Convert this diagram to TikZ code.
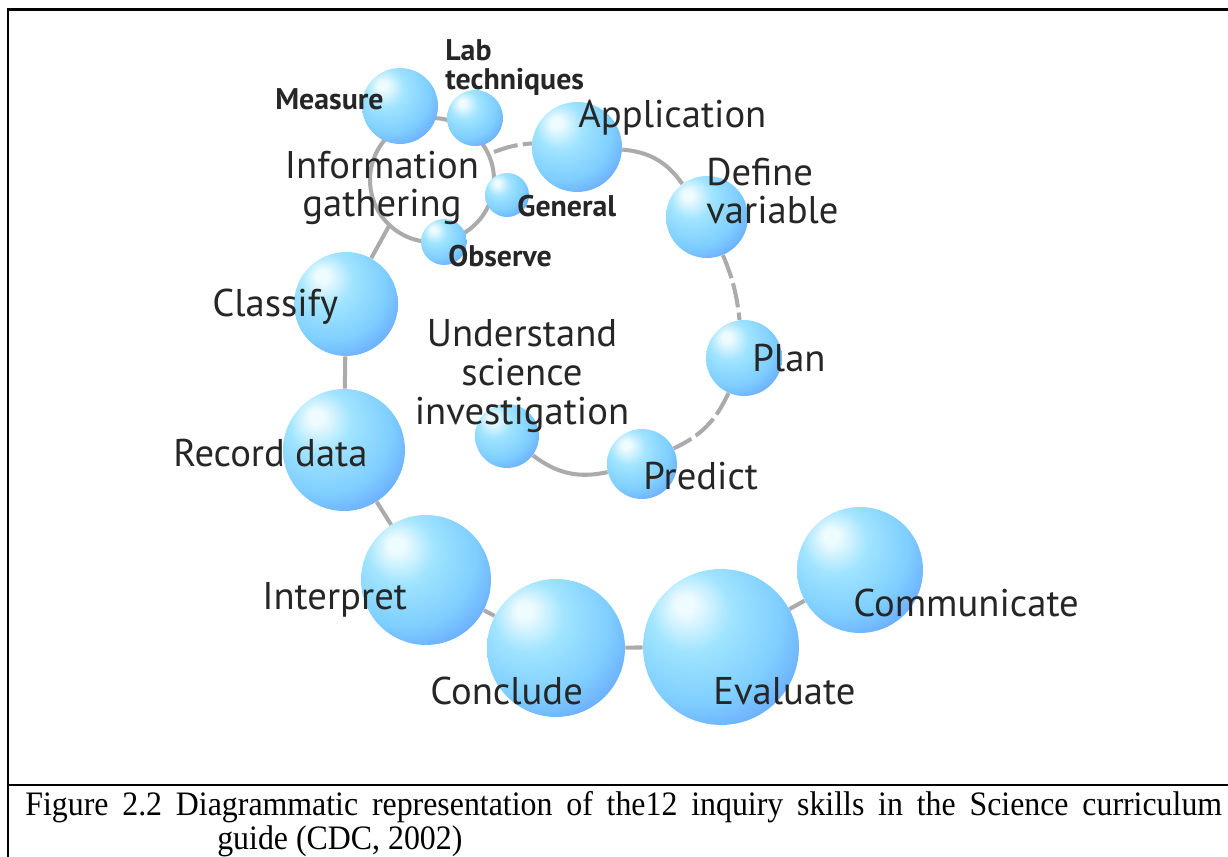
\documentclass[tikz,border=0pt]{standalone}
\usepackage{fontspec}
\newfontfamily\skillfont{PT Sans}
\newfontfamily\capfont[FakeStretch=0.93]{Liberation Serif}
\usetikzlibrary{backgrounds}

% sphere colours
\definecolor{bubA}{RGB}{238,251,255}
\definecolor{bubB}{RGB}{160,228,255}
\definecolor{bubC}{RGB}{126,206,255}
\definecolor{bubD}{RGB}{100,160,255}
\definecolor{bubE}{RGB}{80,90,250}
\pgfdeclareradialshading{bubble}{\pgfpoint{-12bp}{14bp}}{%
  color(0bp)=(bubA); color(3bp)=(bubA); color(13bp)=(bubB);
  color(27bp)=(bubC); color(39bp)=(bubD); color(51bp)=(bubE);
  color(75bp)=(bubE)}

\tikzset{
  bub/.style={circle, shade, shading=bubble, inner sep=0pt,
    minimum size=#1*0.04cm},
  skill/.style={font=\skillfont\fontsize{22}{22}\selectfont,
    text=black!85, inner sep=0pt},
  subskill/.style={font=\skillfont\bfseries\fontsize{17}{16.5}\selectfont,
    text=black!85, inner sep=0pt},
  link/.style={draw=black!33, line width=2.3pt},
  gappy/.style={link, dash pattern=on 14pt off 3pt},
  frame/.style={line width=1.7pt},
  capt/.style={font=\capfont\fontsize{19.5}{19.6}\selectfont, inner sep=0pt},
}

\begin{document}
\begin{tikzpicture}[x=0.02cm, y=-0.02cm]
\useasboundingbox (0,0) rectangle (1228,857);

% frame and caption rule
\draw[frame] (1228,10) -- (8,10) -- (8,857);
\draw[frame] (8,785) -- (1228,785);

% spheres
\node[bub=38] (meas) at (400,106) {};
\node[bub=28] (labt) at (475,118) {};
\node[bub=45] (appl) at (577,147) {};
\node[bub=22] (genl) at (507,195) {};
\node[bub=23] (obsv) at (444,242) {};
\node[bub=41] (defv) at (707,217) {};
\node[bub=38] (plan) at (744,358) {};
\node[bub=35] (pred) at (642,464) {};
\node[bub=32] (unds) at (507,436) {};
\node[bub=52] (clas) at (346,304) {};
\node[bub=61] (recd) at (344,450) {};
\node[bub=65] (intp) at (426,580) {};
\node[bub=69] (cncl) at (556,648) {};
\node[bub=78] (eval) at (721,647) {};
\node[bub=63] (comm) at (860,570) {};

% spiral of links behind the spheres
\begin{scope}[on background layer]
  \coordinate (ringc) at (432,180);
  \coordinate (ringsw) at (389,226);
  \coordinate (ringe) at (494,152);
  \draw[link] (ringc) circle[radius=1.24cm];
  \draw[link] (ringsw) -- (clas);
  \draw[link] (clas) -- (recd);
  \draw[link] (recd) -- (intp);
  \draw[link] (intp) -- (cncl);
  \draw[link] (cncl) -- (eval);
  \draw[link] (eval) -- (comm);
  \draw[gappy] (ringe) to[bend left=8] (appl);
  \draw[link] (appl) to[bend left=25] (defv);
  \draw[gappy] (defv) to[bend left=8] (plan);
  \draw[gappy] (plan) to[bend left=20] (pred);
  \draw[link] (pred) to[bend left=25] (unds);
\end{scope}

% labels
\node[subskill, anchor=base west] (meas-t) at (275,110) {Measure};
\node[subskill, anchor=west, align=left] (labt-t) at (445,68) {Lab\\techniques};
\node[skill, anchor=base west] (appl-t) at (578,128) {Application};
\node[skill, align=center] (info-t) at (382,188) {Information\\gathering};
\node[subskill, anchor=base west] (genl-t) at (517,217) {General};
\node[subskill, anchor=base west] (obsv-t) at (448,267) {Observe};
\node[skill, anchor=west, align=left] (defv-t) at (706,191) {Define\\variable};
\node[skill, anchor=base west] (clas-t) at (212,317) {Classify};
\node[skill, align=center] (unds-t) at (522,376) {Understand\\science\\investigation};
\node[skill, anchor=base west] (plan-t) at (752,372) {Plan};
\node[skill, anchor=base west] (recd-t) at (173,467) {Record data};
\node[skill, anchor=base west] (pred-t) at (643,490) {Predict};
\node[skill, anchor=base west] (intp-t) at (262,610) {Interpret};
\node[skill, anchor=base west] (comm-t) at (853,617) {Communicate};
\node[skill, anchor=base west] (cncl-t) at (430,705) {Conclude};
\node[skill, anchor=base west] (eval-t) at (713,705) {Evaluate};

% caption
\node[capt, anchor=north west, text width=23.94cm, align=justify] (cap) at (25,791)
  {\hangindent=3.84cm\hangafter=1 Figure 2.2 Diagrammatic representation of the12
   inquiry skills in the Science curriculum\linebreak guide (CDC, 2002)\par};
\end{tikzpicture}
\end{document}
